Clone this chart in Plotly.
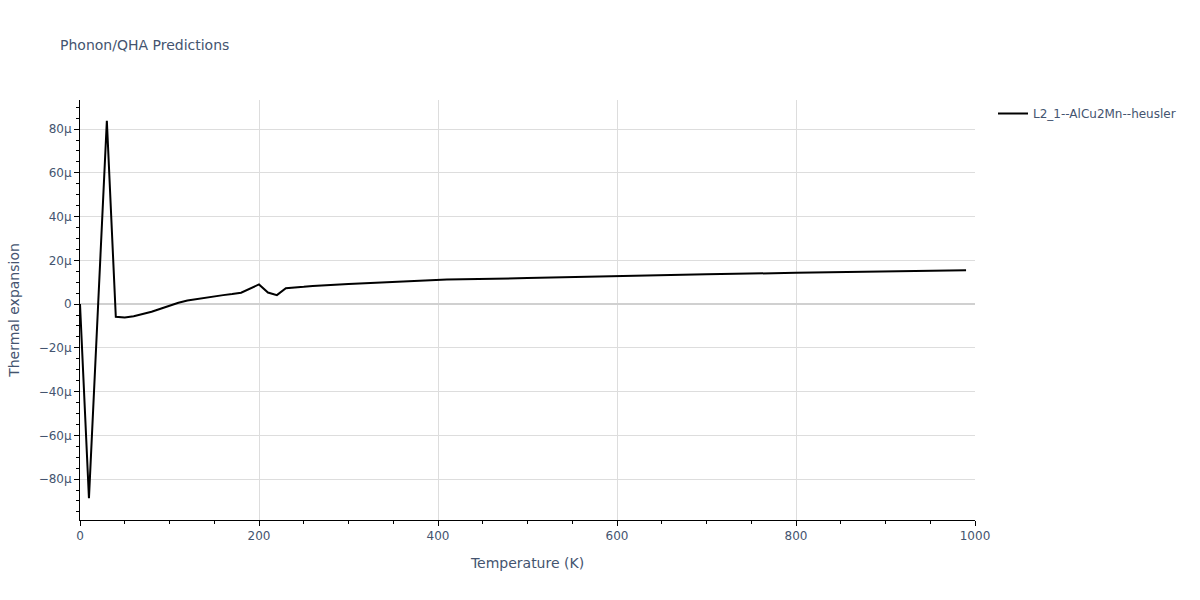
import plotly.graph_objects as go

temperature = [0, 10, 20, 30, 40, 50, 60, 70, 80, 90, 100, 110, 120, 130, 140, 150,
               160, 170, 180, 200, 210, 220, 230, 250, 260, 300, 350, 400, 410,
               500, 550, 600, 700, 800, 900, 990]
expansion_micro = [0.0, -88.7, -2.5, 83.8, -5.8, -6.1, -5.6, -4.6, -3.5, -2.1, -0.7,
                   0.6, 1.6, 2.3, 2.9, 3.5, 4.1, 4.6, 5.2, 9.0, 5.3, 4.1, 7.3, 7.9,
                   8.3, 9.2, 10.1, 10.9, 11.2, 11.9, 12.4, 12.8, 13.6, 14.3, 14.9, 15.5]
expansion = [v * 1e-6 for v in expansion_micro]

series_name = "L2_1--AlCu2Mn--heusler"
text_color = "#44546f"

fig = go.Figure()
fig.add_trace(go.Scatter(x=temperature, y=expansion, mode="lines", name=series_name,
                         line=dict(color="black", width=2), showlegend=True))

axis_common = dict(
    showline=True, linecolor="black", linewidth=1,
    ticks="outside", tickcolor="black", ticklen=5,
    showgrid=True, gridcolor="#dddddd", gridwidth=1,
    zeroline=True, zerolinecolor="#d0d0d0", zerolinewidth=2,
    tickfont=dict(size=12, color=text_color),
)

fig.update_layout(
    width=1200, height=600,
    template="plotly_white",
    title=dict(text="Phonon/QHA Predictions", x=0.05, y=0.925, yanchor="middle",
               font=dict(size=14, color=text_color)),
    font=dict(family="Verdana, DejaVu Sans, sans-serif", color=text_color),
    margin=dict(l=80, r=225, t=100, b=80, autoexpand=False),
    plot_bgcolor="white", paper_bgcolor="white",
    showlegend=True,
    legend=dict(xref="container", yref="container", x=0.8275, y=0.835,
                xanchor="left", yanchor="top", font=dict(size=12, color=text_color)),
    xaxis=dict(title=dict(text="Temperature (K)", font=dict(size=14, color=text_color)),
               range=[0, 1000], dtick=200,
               minor=dict(dtick=50, ticks="outside", ticklen=3, tickcolor="black", showgrid=False),
               **axis_common),
    yaxis=dict(title=dict(text="Thermal expansion", font=dict(size=14, color=text_color)),
               range=[-98.7e-6, 93.3e-6], dtick=20e-6, exponentformat="SI",
               minor=dict(dtick=5e-6, ticks="outside", ticklen=3, tickcolor="black", showgrid=False),
               **axis_common),
)

fig.write_html("out.html", config={"displayModeBar": False},
               post_script="document.body.style.margin='0';document.body.style.overflow='hidden';")
